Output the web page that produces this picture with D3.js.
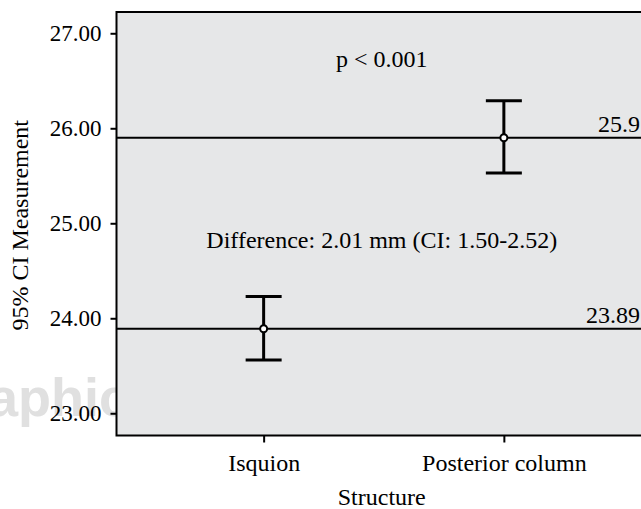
<!DOCTYPE html>
<html>
<head>
<meta charset="utf-8">
<script src="https://cdn.jsdelivr.net/npm/d3@7"></script>
<style>
  body { margin: 0; background: #fff; }
  text { font-family: "Liberation Serif", "Times New Roman", serif; fill: #000; }
</style>
</head>
<body>
<svg id="errorchart"></svg>
<script>
// Valeurs
const categories = ["Isquion", "Posterior column"];
const means = [23.89, 25.9];
const lower = [23.56, 25.53];
const upper = [24.23, 26.29];
const meanLabels = ["23.89", "25.9"];
const yTicks = [23, 24, 25, 26, 27];
const notes = ["p < 0.001", "Difference: 2.01 mm (CI: 1.50-2.52)"];
const notesY = [26.65, 24.74];

const W = 641, H = 509;
const margin = {top: 12, right: -10, bottom: 73.5, left: 116.5};
const width = W - margin.left - margin.right;
const height = H - margin.top - margin.bottom;

const x = d3.scalePoint()
    .domain(categories)
    .range([0, width])
    .padding(0.6125);

const y = d3.scaleLinear()
    .domain([22.766, 27.224])
    .range([height, 0]);

const svg = d3.select("#errorchart")
    .attr("width", W)
    .attr("height", H);

// filigrane en arrière-plan
svg.append("text")
    .attr("x", -12)
    .attr("y", 416)
    .style("font-family", "'Liberation Sans', Arial, sans-serif")
    .style("font-weight", "bold")
    .style("font-size", "54px")
    .style("fill", "#e0e0e0")
    .text("aphic");

const g = svg.append("g")
    .attr("transform", "translate(" + margin.left + "," + margin.top + ")");

g.append("rect")
    .attr("width", width)
    .attr("height", height)
    .attr("fill", "#e6e7e8")
    .attr("stroke", "#000")
    .attr("stroke-width", 2);

// Axe Y
const yAxis = g.append("g")
    .call(d3.axisLeft(y).tickValues(yTicks).tickFormat(d3.format(".2f")).tickSize(6).tickPadding(9));
yAxis.select(".domain").remove();
yAxis.selectAll("line").attr("stroke", "#000").attr("stroke-width", 2);
yAxis.selectAll("text")
    .style("font-family", "'Liberation Serif', serif")
    .style("font-size", "23px");

// Axe X
const xAxis = g.append("g")
    .attr("transform", "translate(0," + height + ")")
    .call(d3.axisBottom(x).tickSize(7).tickPadding(11));
xAxis.select(".domain").remove();
xAxis.selectAll("line").attr("stroke", "#000").attr("stroke-width", 2);
xAxis.selectAll("text")
    .style("font-family", "'Liberation Serif', serif")
    .style("font-size", "24px");

// titres des axes
svg.append("text")
    .attr("transform", "translate(28," + (margin.top + y(25) + 2) + ") rotate(-90)")
    .attr("text-anchor", "middle")
    .style("font-size", "24px")
    .text("95% CI Measurement");

svg.append("text")
    .attr("x", margin.left + (x(categories[0]) + x(categories[1])) / 2 - 2)
    .attr("y", 505)
    .attr("text-anchor", "middle")
    .style("font-size", "24px")
    .text("Structure");

// lignes horizontales des moyennes
g.selectAll(".meanline").data(means).enter()
    .append("line")
    .attr("class", "meanline")
    .attr("x1", 0)
    .attr("x2", width)
    .attr("y1", function(d) { return y(d); })
    .attr("y2", function(d) { return y(d); })
    .attr("stroke", "#000")
    .attr("stroke-width", 2);

g.selectAll(".meanlabel").data(means).enter()
    .append("text")
    .attr("class", "meanlabel")
    .attr("x", W - margin.left - 1)
    .attr("y", function(d) { return y(d) - 6; })
    .attr("text-anchor", "end")
    .style("font-size", "24px")
    .text(function(d, i) { return meanLabels[i]; });

// barres d'erreur
const bars = g.selectAll(".bar").data(categories).enter()
    .append("g")
    .attr("class", "bar")
    .attr("transform", function(d) { return "translate(" + x(d) + ",0)"; });

bars.append("line")
    .attr("y1", function(d, i) { return y(upper[i]); })
    .attr("y2", function(d, i) { return y(lower[i]); })
    .attr("stroke", "#000")
    .attr("stroke-width", 3);

bars.append("line")
    .attr("x1", -18).attr("x2", 18)
    .attr("y1", function(d, i) { return y(upper[i]); })
    .attr("y2", function(d, i) { return y(upper[i]); })
    .attr("stroke", "#000")
    .attr("stroke-width", 3);

bars.append("line")
    .attr("x1", -18).attr("x2", 18)
    .attr("y1", function(d, i) { return y(lower[i]); })
    .attr("y2", function(d, i) { return y(lower[i]); })
    .attr("stroke", "#000")
    .attr("stroke-width", 3);

bars.append("circle")
    .attr("cy", function(d, i) { return y(means[i]); })
    .attr("r", 3.5)
    .attr("fill", "#fff")
    .attr("stroke", "#000")
    .attr("stroke-width", 2);

// annotations
g.selectAll(".note").data(notes).enter()
    .append("text")
    .attr("class", "note")
    .attr("x", (x(categories[0]) + x(categories[1])) / 2 - 2)
    .attr("y", function(d, i) { return y(notesY[i]); })
    .attr("text-anchor", "middle")
    .style("font-size", "24px")
    .text(function(d) { return d; });
</script>
</body>
</html>
